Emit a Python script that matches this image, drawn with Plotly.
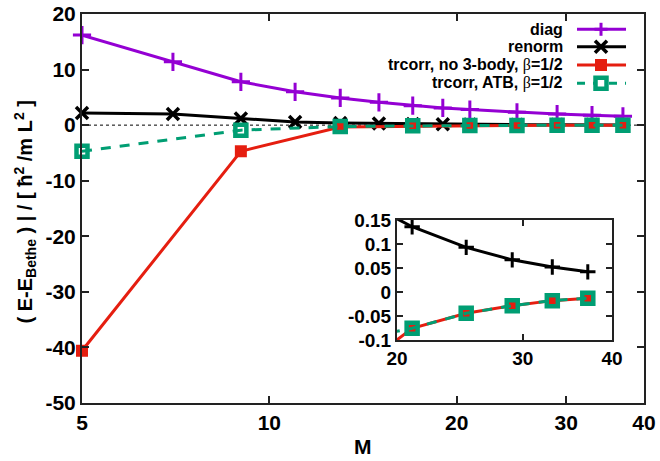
import plotly.graph_objects as go

# ---------------- data ----------------
M_diag = [5, 7, 9, 11, 13, 15, 17, 19, 21, 25, 29, 33, 37]
diag = [16.2, 11.4, 7.8, 6.0, 4.9, 4.1, 3.5, 3.1, 2.8, 2.3, 2.0, 1.8, 1.6]

M_renorm = [5, 7, 9, 11, 13, 15, 17, 19, 21, 25, 29, 33, 37]
renorm = [2.2, 2.0, 1.2, 0.55, 0.38, 0.3, 0.22, 0.17, 0.136, 0.093, 0.067, 0.052, 0.042]

M_trcorr = [5, 9, 13, 17, 21, 25, 29, 33, 37]
trcorr_no3 = [-40.6, -4.7, -0.35, -0.18, -0.0756, -0.0444, -0.0285, -0.018, -0.013]
trcorr_atb = [-4.7, -0.9, -0.25, -0.103, -0.0756, -0.0444, -0.0285, -0.018, -0.013]

x_ticks = [5, 10, 20, 30, 40]
y_ticks = [20, 10, 0, -10, -20, -30, -40, -50]
y_ticktext = ["20", "10", "0", "-10", "-20", "-30", "-40", "-50"]
inset_x_ticks = [20, 30, 40]
inset_y_ticks = [0.15, 0.1, 0.05, 0, -0.05, -0.1]
inset_y_ticktext = ["0.15", "0.1", "0.05", "0", "-0.05", "-0.1"]

legend_labels = [
    "diag",
    "renorm",
    "trcorr, no 3-body, <span style=\"font-family:Liberation Serif;font-weight:normal\">β</span>=1/2",
    "trcorr, ATB, <span style=\"font-family:Liberation Serif;font-weight:normal\">β</span>=1/2",
]

# ---------------- styles ----------------
PURPLE = "#9400d3"
BLACK = "#000000"
RED = "#e51e10"
GREEN = "#009e73"
FONT = "Liberation Sans, Arial, sans-serif"

fig = go.Figure()

# main plot traces
fig.add_trace(go.Scatter(x=M_diag, y=diag, mode="lines+markers", cliponaxis=False,
                         line=dict(color=PURPLE, width=3),
                         marker=dict(symbol="cross-thin", size=13, line=dict(color=PURPLE, width=3)),
                         xaxis="x", yaxis="y", showlegend=False))
fig.add_trace(go.Scatter(x=M_renorm, y=renorm, mode="lines+markers", cliponaxis=False,
                         line=dict(color=BLACK, width=3),
                         marker=dict(symbol="x-thin", size=12, line=dict(color=BLACK, width=3.5)),
                         xaxis="x", yaxis="y", showlegend=False))
fig.add_trace(go.Scatter(x=M_trcorr, y=trcorr_no3, mode="lines+markers", cliponaxis=False,
                         line=dict(color=RED, width=3),
                         marker=dict(symbol="square", size=12, color=RED),
                         xaxis="x", yaxis="y", showlegend=False))
fig.add_trace(go.Scatter(x=M_trcorr, y=trcorr_atb, mode="lines+markers", cliponaxis=False,
                         line=dict(color=GREEN, width=3, dash="10px,9px"),
                         marker=dict(symbol="square-open", size=11, color=GREEN,
                                     line=dict(color=GREEN, width=4.5)),
                         xaxis="x", yaxis="y", showlegend=False))

# inset traces
fig.add_trace(go.Scatter(x=M_renorm, y=renorm, mode="lines+markers", cliponaxis=True,
                         line=dict(color=BLACK, width=3),
                         marker=dict(symbol="cross-thin", size=11, line=dict(color=BLACK, width=3)),
                         xaxis="x2", yaxis="y2", showlegend=False))
fig.add_trace(go.Scatter(x=M_trcorr, y=trcorr_no3, mode="lines+markers", cliponaxis=True,
                         line=dict(color=RED, width=3),
                         marker=dict(symbol="square", size=12, color=RED),
                         xaxis="x2", yaxis="y2", showlegend=False))
fig.add_trace(go.Scatter(x=M_trcorr, y=trcorr_atb, mode="lines+markers", cliponaxis=True,
                         line=dict(color=GREEN, width=3, dash="10px,9px"),
                         marker=dict(symbol="square-open", size=11, color=GREEN,
                                     line=dict(color=GREEN, width=4.5)),
                         xaxis="x2", yaxis="y2", showlegend=False))

axis_common = dict(showline=True, linecolor="#222", linewidth=2, mirror="ticks",
                   ticks="inside", tickcolor="#222", tickwidth=1.5, showgrid=False,
                   zeroline=False, automargin=False)

fig.update_layout(
    template="none",
    width=660, height=461,
    margin=dict(l=82, r=16, t=14, b=58, pad=0),
    paper_bgcolor="white", plot_bgcolor="white",
    font=dict(family=FONT, size=20, color="black", weight="bold"),
    xaxis=dict(type="log", range=[0.69897, 1.60206], tickvals=x_ticks,
               ticktext=[str(v) for v in x_ticks], ticklen=7,
               tickfont=dict(size=21, weight="bold"), anchor="y", domain=[0, 1], **axis_common),
    yaxis=dict(range=[-50, 20], tickvals=y_ticks, ticktext=y_ticktext, ticklen=7,
               tickfont=dict(size=21, weight="bold"), anchor="x", domain=[0, 1], **axis_common),
    xaxis2=dict(type="log", range=[1.30103, 1.60206], tickvals=inset_x_ticks,
                ticktext=[str(v) for v in inset_x_ticks], ticklen=6,
                tickfont=dict(size=19, weight="bold"), anchor="y2",
                domain=[0.5605, 0.943], **axis_common),
    yaxis2=dict(range=[-0.1, 0.15], tickvals=inset_y_ticks, ticktext=inset_y_ticktext,
                ticklen=6, tickfont=dict(size=19, weight="bold"), anchor="x2",
                domain=[0.162, 0.4704], **axis_common),
)

shapes = []
# dotted zero lines
shapes.append(dict(type="line", xref="x domain", yref="y", x0=0, x1=1, y0=0, y1=0,
                   line=dict(color="black", width=1, dash="dot"), layer="below"))
shapes.append(dict(type="line", xref="x2 domain", yref="y2", x0=0, x1=1, y0=0, y1=0,
                   line=dict(color="#555", width=1, dash="dot"), layer="below"))

# legend (gnuplot style: text right aligned, sample on the right)
leg_y = [0.9607, 0.9159, 0.8689, 0.8219]
leg_text_x = 0.8594
leg_l0, leg_l1, leg_m = 0.8808, 0.968, 0.9235
leg_colors = [PURPLE, BLACK, RED, GREEN]
annotations = []
for i, lab in enumerate(legend_labels):
    annotations.append(dict(text=lab, x=leg_text_x, y=leg_y[i], xref="paper", yref="paper",
                            xanchor="right", yanchor="middle", showarrow=False,
                            font=dict(size=16, family=FONT, weight="bold", color="black")))
    dash = "8px,8px" if i == 3 else "solid"
    shapes.append(dict(type="line", xref="paper", yref="paper", x0=leg_l0, x1=leg_l1,
                       y0=leg_y[i], y1=leg_y[i], line=dict(color=leg_colors[i], width=3, dash=dash)))

def pix(kind, yi, x0, y0, x1, y1, **kw):
    d = dict(type=kind, xref="paper", yref="paper", xsizemode="pixel", ysizemode="pixel",
             xanchor=leg_m, yanchor=leg_y[yi], x0=x0, y0=y0, x1=x1, y1=y1)
    d.update(kw)
    return d

# diag '+'
shapes.append(pix("line", 0, -6.5, 0, 6.5, 0, line=dict(color=PURPLE, width=3)))
shapes.append(pix("line", 0, 0, -6.5, 0, 6.5, line=dict(color=PURPLE, width=3)))
# renorm 'x'
shapes.append(pix("line", 1, -6, -6, 6, 6, line=dict(color=BLACK, width=3.5)))
shapes.append(pix("line", 1, -6, 6, 6, -6, line=dict(color=BLACK, width=3.5)))
# red square
shapes.append(pix("rect", 2, -6, -6, 6, 6, fillcolor=RED, line=dict(color=RED, width=0)))
# green open square
shapes.append(pix("rect", 3, -5.5, -5.5, 5.5, 5.5, fillcolor="white", line=dict(color=GREEN, width=4.5)))

# axis titles
annotations.append(dict(text="M", x=0.5, y=-0.113, xref="paper", yref="paper",
                        xanchor="center", yanchor="middle", showarrow=False,
                        font=dict(size=21, family=FONT, weight="bold")))
annotations.append(dict(text="( E-E<sub>Bethe</sub> ) | / [ ħ<sup>2</sup> /m L<sup>2</sup> ]",
                        x=-0.1014, y=0.4897, xref="paper", yref="paper", textangle=-90,
                        xanchor="center", yanchor="middle", showarrow=False,
                        font=dict(size=20, family=FONT, weight="bold")))

fig.update_layout(shapes=shapes, annotations=annotations)
fig.write_html("out.html")
